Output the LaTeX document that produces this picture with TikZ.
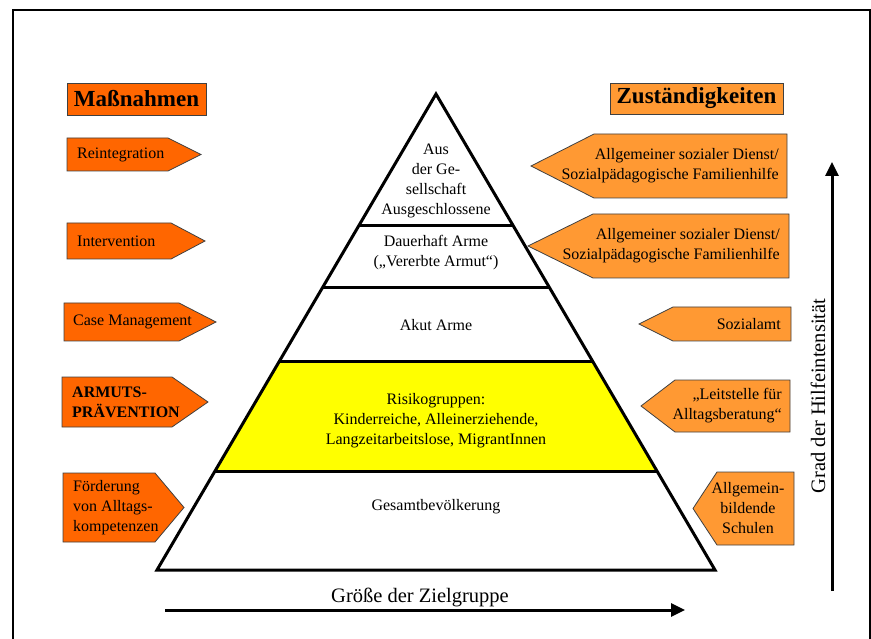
\documentclass[tikz,border=0pt]{standalone}
\usepackage{fontspec}
\setmainfont{Liberation Serif}
\usetikzlibrary{calc,arrows.meta}
\definecolor{darkor}{HTML}{FF6600}
\definecolor{lightor}{HTML}{FF9933}
\definecolor{yel}{HTML}{FFFF00}
\begin{document}
\begin{tikzpicture}[x=1pt,y=-1pt,
  txt/.style={font=\fontsize{16}{20}\selectfont, inner sep=0pt, align=center},
  lbox/.style={fill=darkor, draw=black!75, line width=0.8pt},
  rbox/.style={fill=lightor, draw=black!75, line width=0.8pt},
  hdr/.style={draw=black!75, line width=0.8pt, inner sep=0pt, font=\fontsize{23}{26}\selectfont\bfseries},
  pyr/.style={line width=3pt, line join=miter},
  bigarrow/.style={line width=3pt, -{Triangle[length=14pt,width=13pt]}}]
\useasboundingbox (0,0) rectangle (871,639);
% outer frame
\draw[line width=2pt] (12.5,700) -- (12.5,10.5) -- (869.5,10.5) -- (869.5,700);

% pyramid
\coordinate (apex) at (436,94);
\coordinate (bl) at (157,570);
\coordinate (br) at (715,570);
\coordinate (l1L) at ($(apex)!0.2773!(bl)$);
\coordinate (l1R) at ($(apex)!0.2773!(br)$);
\coordinate (l2L) at ($(apex)!0.4055!(bl)$);
\coordinate (l2R) at ($(apex)!0.4055!(br)$);
\coordinate (l3L) at ($(apex)!0.5630!(bl)$);
\coordinate (l3R) at ($(apex)!0.5630!(br)$);
\coordinate (l4L) at ($(apex)!0.7941!(bl)$);
\coordinate (l4R) at ($(apex)!0.7941!(br)$);
\fill[yel] (l3L) -- (l3R) -- (l4R) -- (l4L) -- cycle;
\draw[pyr] (apex) -- (br) -- (bl) -- cycle;
\draw[line width=3pt] (l1L) -- (l1R);
\draw[line width=3pt] (l2L) -- (l2R);
\draw[line width=3pt] (l3L) -- (l3R);
\draw[line width=3pt] (l4L) -- (l4R);

\node[txt] (p1) at (436,181) {Aus\\der Ge-\\sellschaft\\Ausgeschlossene};
\node[txt] (p2) at (436,253) {Dauerhaft Arme\\(„Vererbte Armut“)};
\node[txt] (p3) at (436,325) {Akut Arme};
\node[txt] (p4) at (436,421) {Risikogruppen:\\Kinderreiche, Alleinerziehende,\\Langzeitarbeitslose, MigrantInnen};
\node[txt] (p5) at (436,507) {Gesamtbevölkerung};

% headers
\node[hdr, fill=darkor, minimum width=139pt, minimum height=32pt] (hl) at (136.5,99) {Maßnahmen};
\node[hdr, fill=lightor, minimum width=173pt, minimum height=31pt] (hr) at (696.5,98.5) {Zuständigkeiten};

% left arrows
\draw[lbox] (67,138) -- (168,138) -- (201,154.5) -- (168,171) -- (67,171) -- cycle;
\node[txt, anchor=west, align=left] (m1) at (77,154.5) {Reintegration};
\draw[lbox] (67,223) -- (171,223) -- (205,241) -- (171,259) -- (67,259) -- cycle;
\node[txt, anchor=west, align=left] (m2) at (77,241) {Intervention};
\draw[lbox] (64,303) -- (179,303) -- (216,322) -- (179,341) -- (64,341) -- cycle;
\node[txt, anchor=west, align=left] (m3) at (73,322) {Case Management};
\draw[lbox] (62,377) -- (172,377) -- (208,402) -- (172,427) -- (62,427) -- cycle;
\node[txt, anchor=west, align=left, font=\fontsize{16}{20}\selectfont\bfseries] (m4) at (72,402) {ARMUTS-\\PRÄVENTION};
\draw[lbox] (63,473) -- (155,473) -- (184,507.5) -- (155,542) -- (63,542) -- cycle;
\node[txt, anchor=west, align=left] (m5) at (73,507.5) {Förderung\\von Alltags-\\kompetenzen};

% right arrows
\draw[rbox] (531,166) -- (594,134) -- (787,134) -- (787,198) -- (594,198) -- cycle;
\node[txt, anchor=east, align=right] (z1) at (779,166) {Allgemeiner sozialer Dienst/\\Sozialpädagogische Familienhilfe};
\draw[rbox] (528,246) -- (593,214) -- (789,214) -- (789,278) -- (593,278) -- cycle;
\node[txt, anchor=east, align=right] (z2) at (780,246) {Allgemeiner sozialer Dienst/\\Sozialpädagogische Familienhilfe};
\draw[rbox] (639,324) -- (673,307) -- (791,307) -- (791,341) -- (673,341) -- cycle;
\node[txt, anchor=east, align=right] (z3) at (781,324) {Sozialamt};
\draw[rbox] (641,406) -- (675,380) -- (790,380) -- (790,432) -- (675,432) -- cycle;
\node[txt, anchor=east, align=right] (z4) at (782,406) {„Leitstelle für\\Alltagsberatung“};
\draw[rbox] (693,508.5) -- (717,472) -- (794,472) -- (794,545) -- (717,545) -- cycle;
\node[txt] (z5) at (748,508.5) {Allgemein-\\bildende\\Schulen};

% axes
\coordinate (hs) at (165,610);
\coordinate (he) at (685,610);
\draw[bigarrow] (hs) -- (he);
\node[font=\fontsize{20.5}{24}\selectfont, inner sep=0pt] (xl) at (420,597) {Größe der Zielgruppe};
\coordinate (vs) at (832,591);
\coordinate (ve) at (832,162);
\draw[bigarrow] (vs) -- (ve);
\node[font=\fontsize{20.5}{24}\selectfont, inner sep=0pt, rotate=90] (yl) at (818,396) {Grad der Hilfeintensität};
\end{tikzpicture}
\end{document}
